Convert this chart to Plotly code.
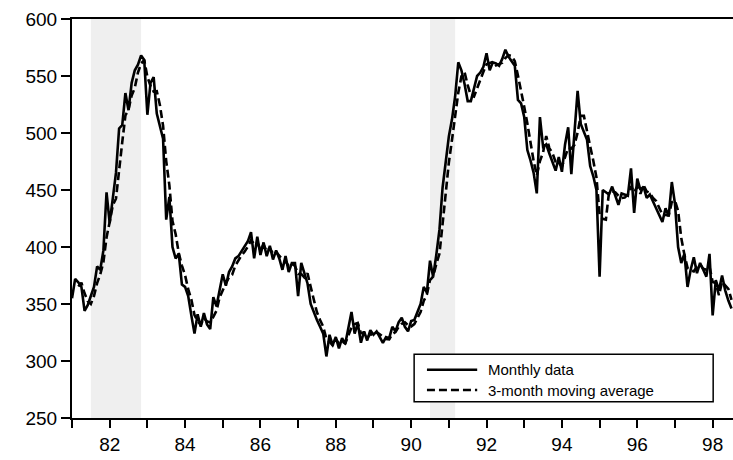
import plotly.graph_objects as go
import pandas as pd

# Monthly data, Jan 1981 .. Jul 1998
monthly = [
    # 1981
    355, 372, 369, 365, 344, 349, 357, 365, 383, 380, 397, 448,
    # 1982
    421, 441, 465, 504, 507, 535, 520, 544, 555, 560, 568, 564,
    # 1983
    516, 544, 549, 517, 507, 495, 424, 444, 400, 390, 394, 367,
    # 1984
    365, 357, 340, 324, 341, 330, 342, 332, 328, 356, 348, 363,
    # 1985
    376, 366, 378, 383, 390, 392, 396, 400, 405, 413, 390, 409,
    # 1986
    393, 404, 392, 401, 389, 397, 390, 380, 392, 378, 386, 386,
    # 1987
    357, 386, 377, 368, 350, 342, 336, 330, 324, 304, 323, 314,
    # 1988
    321, 311, 320, 315, 330, 343, 324, 333, 316, 326, 318, 327,
    # 1989
    323, 326, 321, 316, 321, 320, 330, 326, 334, 338, 330, 326,
    # 1990
    335, 336, 343, 350, 365, 360, 388, 374, 393, 415, 452, 473,
    # 1991
    497, 512, 532, 562, 555, 543, 528, 528, 540, 550, 553, 558,
    # 1992
    570, 555, 562, 561, 559, 565, 573, 567, 563, 559, 529, 526,
    # 1993
    514, 485, 476, 465, 447, 514, 488, 490, 482, 475, 467, 479,
    # 1994
    466, 490, 505, 464, 500, 537, 508, 500, 494, 471, 462, 450,
    # 1995
    374, 450, 448, 446, 453, 445, 437, 447, 446, 445, 469, 430,
    # 1996
    460, 450, 453, 443, 446, 440, 435, 428, 422, 434, 427, 457,
    # 1997
    438, 400, 386, 394, 365, 380, 391, 377, 386, 380, 374, 394,
    # 1998
    340, 371, 362, 375, 362, 353, 346,
]
start_year = 81
recessions = [(81.5, 82.833), (90.5, 91.167)]
x_tick_vals = [82, 84, 86, 88, 90, 92, 94, 96, 98]
x_tick_text = ["82", "84", "86", "88", "90", "92", "94", "96", "98"]
y_tick_vals = [250, 300, 350, 400, 450, 500, 550, 600]
series_names = ["Monthly data", "3-month moving average"]

x = [start_year + i / 12 for i in range(len(monthly))]
ma3 = pd.Series(monthly).rolling(3).mean().tolist()

FONT = "Liberation Sans, Arial, sans-serif"

fig = go.Figure()
fig.add_trace(go.Scatter(x=x, y=ma3, mode="lines", name=series_names[1],
                         line=dict(color="black", width=2.6, dash="8px,4px"),
                         showlegend=False))
fig.add_trace(go.Scatter(x=x, y=monthly, mode="lines", name=series_names[0],
                         line=dict(color="black", width=2.6),
                         showlegend=False))

for a, b in recessions:
    fig.add_vrect(x0=a, x1=b, fillcolor="rgb(239,239,239)", line_width=0,
                  layer="below")

# Legend box (drawn manually to match the boxed legend)
lx0, lx1, ly0, ly1 = 0.5176, 0.970, 0.041, 0.160
fig.add_shape(type="rect", xref="paper", yref="paper", x0=lx0, x1=lx1,
              y0=ly0, y1=ly1, line=dict(color="black", width=1.5),
              fillcolor="white")
fig.add_shape(type="line", xref="paper", yref="paper", x0=0.537, x1=0.613,
              y0=0.121, y1=0.121, line=dict(color="black", width=2.6))
fig.add_shape(type="line", xref="paper", yref="paper", x0=0.537, x1=0.613,
              y0=0.070, y1=0.070,
              line=dict(color="black", width=2.6, dash="8px,4px"))
fig.add_annotation(xref="paper", yref="paper", x=0.626, y=0.121,
                   text=series_names[0], showarrow=False, xanchor="left",
                   yanchor="middle", font=dict(family=FONT, size=15, color="black"))
fig.add_annotation(xref="paper", yref="paper", x=0.626, y=0.070,
                   text=series_names[1], showarrow=False, xanchor="left",
                   yanchor="middle", font=dict(family=FONT, size=15, color="black"))

fig.update_layout(
    width=733, height=460,
    margin=dict(l=72, r=0, t=19, b=42),
    paper_bgcolor="white", plot_bgcolor="white",
    font=dict(family=FONT, size=19, color="black"),
    showlegend=False,
)
fig.update_xaxes(
    range=[81, 98.54], tickvals=x_tick_vals, ticktext=x_tick_text,
    ticks="outside", ticklen=8, tickwidth=1.5, tickcolor="black",
    showline=True, linecolor="black", linewidth=2, mirror=True,
    showgrid=False, zeroline=False,
    minor=dict(tickvals=[81, 83, 85, 87, 89, 91, 93, 95, 97],
               ticks="outside", ticklen=8, tickwidth=1.5, tickcolor="black",
               showgrid=False),
    tickfont=dict(family=FONT, size=19, color="black"),
)
fig.update_yaxes(
    range=[250, 600], tickvals=y_tick_vals,
    ticks="outside", ticklen=9, tickwidth=1.5, tickcolor="black",
    showline=True, linecolor="black", linewidth=2,
    showgrid=False, zeroline=False,
    tickfont=dict(family=FONT, size=19, color="black"),
)

fig.write_html(
    "out.html",
    config={"displayModeBar": False},
    post_script="document.body.style.margin='0';document.body.style.overflow='hidden';",
)
